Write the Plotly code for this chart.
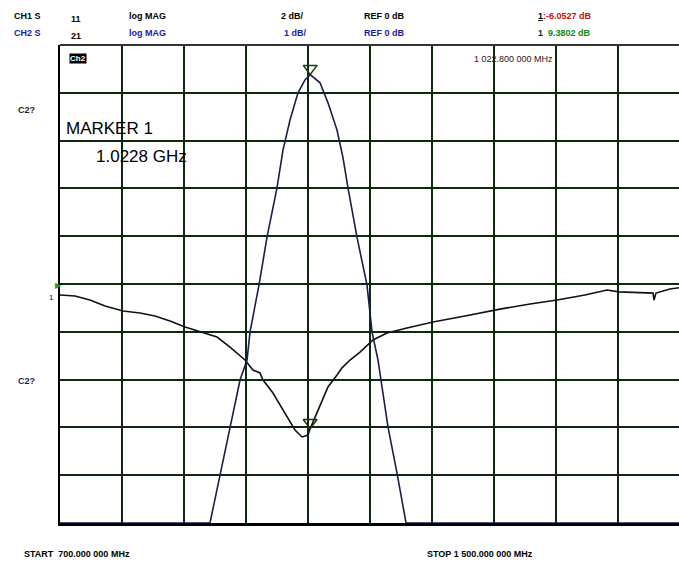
import plotly.graph_objects as go

# ---- data ----
s21_freq = [700, 893.5, 906.5, 919.4, 932.3, 941.3, 945.2, 956.8, 967.1, 980.0, 987.7, 996.8,
            1007.1, 1016.1, 1022.8, 1035.5, 1045.8, 1057.4, 1065.2, 1071.6, 1083.2, 1096.1,
            1102.6, 1110.3, 1123.2, 1134.8, 1146.5, 1500]
s21_db = [0, 0, 1.00, 1.99, 2.99, 3.41, 4.00, 4.98, 5.98, 7.01, 7.80, 8.43,
          9.00, 9.27, 9.38, 9.21, 8.79, 8.22, 7.64, 7.01, 5.98, 4.98,
          4.00, 3.41, 2.01, 1.05, 0, 0]

s11_freq = [700, 719.4, 738.7, 758.1, 781.3, 803.2, 822.6, 841.9, 861.3, 880.6, 902.6, 919.4,
            938.7, 949.0, 958.1, 961.9, 974.8, 987.7, 1003.2, 1012.3, 1020.0, 1022.8, 1026.5,
            1035.5, 1045.8, 1057.4, 1063.9, 1074.2, 1087.1, 1103.9, 1121.9, 1147.7, 1181.3,
            1222.6, 1267.7, 1306.5, 1341.3, 1377.4, 1405.8, 1421.3, 1448.4, 1465.2, 1466.5,
            1469.0, 1487.1, 1500]
s11_db = [-0.46, -0.50, -0.67, -0.92, -1.13, -1.21, -1.34, -1.55, -1.80, -2.01, -2.22, -2.64,
          -3.18, -3.60, -3.72, -4.02, -4.56, -5.27, -6.11, -6.40, -6.32, -6.05, -5.77,
          -5.15, -4.31, -3.81, -3.51, -3.18, -2.85, -2.34, -2.05, -1.84, -1.59,
          -1.34, -1.05, -0.84, -0.67, -0.46, -0.25, -0.33, -0.38, -0.38, -0.67,
          -0.38, -0.21, -0.15]

marker_freq = 1022.8
marker_s11 = -6.0527
marker_s21 = 9.3802
start_mhz = 700
stop_mhz = 1500
s11_scale = 2  # dB/div
s21_scale = 1  # dB/div

FONT = "Liberation Sans, Arial, sans-serif"

fig = go.Figure()
fig.add_trace(go.Scatter(x=s11_freq, y=s11_db, mode="lines",
                         line=dict(color="#111111", width=1.6), yaxis="y", showlegend=False))
fig.add_trace(go.Scatter(x=s21_freq, y=s21_db, mode="lines",
                         line=dict(color="#1c1c4a", width=1.6), yaxis="y2", showlegend=False))

# marker triangles (tip on the trace)
fig.add_trace(go.Scatter(x=[marker_freq], y=[marker_s11 + 0.13 * s11_scale], mode="markers",
                         marker=dict(symbol="triangle-down-open", size=12,
                                     color="#2a2a10", line=dict(width=1.5)),
                         yaxis="y", showlegend=False))
fig.add_trace(go.Scatter(x=[marker_freq], y=[marker_s21 + 0.13 * s21_scale], mode="markers",
                         marker=dict(symbol="triangle-down-open", size=12,
                                     color="#1a3a1a", line=dict(width=1.5)),
                         yaxis="y2", showlegend=False))

grid_col = "#0e2a0e"
x_end = start_mhz + (stop_mhz - start_mhz) * 619 / 620
fig.update_layout(
    width=679, height=563,
    margin=dict(l=60, r=0, t=45, b=40),
    paper_bgcolor="white", plot_bgcolor="white",
    xaxis=dict(range=[start_mhz, x_end], dtick=80, tick0=start_mhz, showgrid=True,
               gridcolor=grid_col, gridwidth=2, showticklabels=False, ticks="",
               zeroline=False, showline=True, linecolor="black", linewidth=3),
    yaxis=dict(range=[-5 * s11_scale, 5 * s11_scale], dtick=s11_scale, showgrid=True,
               gridcolor=grid_col, gridwidth=2, showticklabels=False, ticks="",
               zeroline=False, showline=True, linecolor="black", linewidth=2),
    yaxis2=dict(range=[0, 10 * s21_scale], overlaying="y", showgrid=False,
                showticklabels=False, ticks="", zeroline=False, showline=False),
)

for f in [1020, 1420]:
    fig.add_vline(x=f, line=dict(color="#2e8b2e", width=2), layer="below")

fig.add_shape(type="line", xref="paper", yref="paper", x0=0, x1=1, y0=1, y1=1,
              line=dict(color="#333333", width=2))


def htxt(x, y, s, color="black", size=10, bold=True):
    fig.add_annotation(xref="paper", yref="paper", x=(x - 60) / 619, y=1 - (y - 45) / 478,
                       text=("<b>" + s + "</b>") if bold else s, showarrow=False,
                       xanchor="left", yanchor="middle",
                       font=dict(family=FONT, size=size, color=color))


blue = "#1a1aa8"
htxt(12, 16, "CH1 S", "black", 9)
htxt(69, 19, "11", "black", 9)
htxt(127, 16, "log MAG", "black", 9)
htxt(279, 16, "2 dB/", "black", 9)
htxt(362, 16, "REF 0 dB", "black", 9)
htxt(536, 16, "<span style='text-decoration:underline'>1</span><span style='color:#c01010'>:-6.0527 dB</span>", "black", 9)

htxt(12, 33, "CH2 S", blue, 9)
htxt(69, 36, "21", "black", 9)
htxt(127, 33, "log MAG", blue, 9)
htxt(282, 33, "1 dB/", blue, 9)
htxt(362, 33, "REF 0 dB", blue, 9)
htxt(536, 33, "1  <span style='color:#0a8a0a'>9.3802 dB</span>", "#222222", 9)

htxt(16, 110, "C2?", "#222222", 9)
htxt(16, 381, "C2?", "#1c1c5a", 9)
htxt(47, 297, "1", "#222222", 8, bold=False)
fig.add_annotation(xref="paper", yref="paper", x=(53 - 60) / 619, y=1 - (285 - 45) / 478,
                   text="▶", showarrow=False, xanchor="left", yanchor="middle",
                   font=dict(family="DejaVu Sans", size=8, color="#2a9a2a"))

fig.add_annotation(xref="paper", yref="paper", x=(69 - 60) / 619, y=1 - (58 - 45) / 478,
                   text="<b>Ch2</b>", showarrow=False, xanchor="left", yanchor="middle",
                   bgcolor="black", borderpad=0,
                   font=dict(family=FONT, size=8, color="white"))

htxt(64, 128, "MARKER 1", "black", 17, bold=False)
htxt(94, 157, "1.0228 GHz", "black", 17, bold=False)
htxt(472, 59, "1 022.800 000 MHz", "#3a1010", 9, bold=False)

htxt(22, 554, "START  700.000 000 MHz", "black", 9)
htxt(425, 554, "STOP 1 500.000 000 MHz", "black", 9)

fig.write_html("out.html", config={"displayModeBar": False},
               post_script="document.body.style.margin='0';document.body.style.overflow='hidden';")
